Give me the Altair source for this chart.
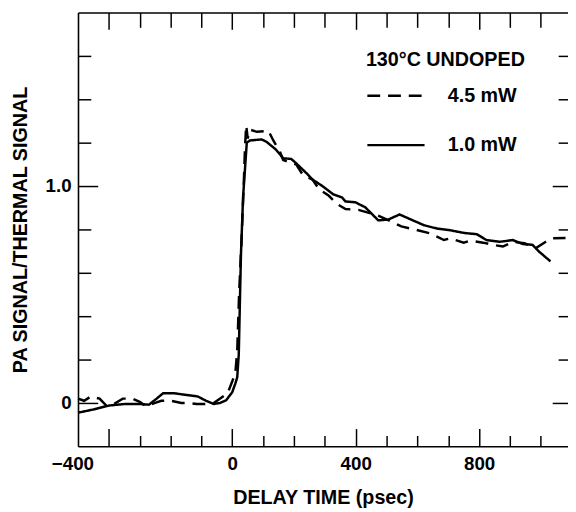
import altair as alt
import pandas as pd

# ---- data ----
series_names = ["4.5 mW", "1.0 mW"]

solid_t = [-500, -450, -400, -350, -300, -270, -245, -224, -190, -165, -112, -85, -60,
           -40, -20, 0, 10, 16, 21, 28, 35, 47, 57, 95, 111, 140, 165, 191, 207, 245,
           260, 292, 327, 356, 367, 399, 431, 452, 473, 505, 542, 580, 622, 664, 707,
           750, 792, 824, 867, 909, 941, 973, 994, 1031]
solid_v = [-0.045, -0.03, -0.012, -0.005, -0.005, -0.008, 0.02, 0.045, 0.045, 0.04, 0.03,
           0.01, -0.005, 0.0, 0.012, 0.05, 0.09, 0.118, 0.223, 0.68, 0.95, 1.2, 1.21,
           1.215, 1.204, 1.17, 1.128, 1.125, 1.105, 1.053, 1.03, 1.0, 0.962, 0.947,
           0.929, 0.925, 0.902, 0.872, 0.842, 0.845, 0.869, 0.845, 0.819, 0.804, 0.796,
           0.784, 0.778, 0.751, 0.743, 0.751, 0.733, 0.729, 0.698, 0.653]

dash_t = [-500, -480, -458, -430, -410, -390, -355, -325, -300, -280, -250, -230, -200,
          -165, -140, -115, -90, -60, -45, -15, 0, 10, 16, 22, 30, 37, 41, 45, 50, 57,
          80, 117, 133, 154, 165, 207, 228, 260, 281, 313, 340, 367, 409, 473, 548, 601,
          643, 686, 707, 750, 771, 813, 845, 877, 909, 947, 984, 1016, 1037, 1080]
dash_v = [0.02, 0.01, 0.03, 0.02, -0.01, -0.01, 0.02, 0.02, 0.005, -0.015, 0.0, 0.01,
          0.01, 0.0, 0.0, -0.005, -0.005, 0.0, 0.015, 0.045, 0.1, 0.14, 0.24, 0.5,
          0.75, 1.0, 1.17, 1.28, 1.22, 1.26, 1.25, 1.255, 1.21, 1.16, 1.12, 1.10, 1.053,
          1.03, 0.986, 0.955, 0.917, 0.894, 0.89, 0.864, 0.814, 0.796, 0.781, 0.751,
          0.759, 0.739, 0.748, 0.739, 0.729, 0.721, 0.743, 0.736, 0.714, 0.743, 0.759,
          0.76]

x_major = [-400, 0, 400, 800]
x_minor = [-300, -200, -100, 100, 200, 300, 500, 600, 700, 900, 1000]
x_labels = [0, 400, 800]
x_first_label = [-400]
y_major = [0.0, 1.0]
y_minor = [0.2, 0.4, 0.6, 0.8, 1.2, 1.4, 1.6]

rows = []
for i, (t, v) in enumerate(zip(dash_t, dash_v)):
    rows.append({"t": t, "v": v, "series": series_names[0], "i": i})
for i, (t, v) in enumerate(zip(solid_t, solid_v)):
    rows.append({"t": t, "v": v, "series": series_names[1], "i": i})
df = pd.DataFrame(rows)

FONT = "Liberation Sans"
xs = alt.Scale(domain=[-500, 1088], nice=False, zero=False)
ys = alt.Scale(domain=[-0.2, 1.8], nice=False, zero=False)

common = dict(grid=False, domainColor="black", tickColor="black", labelColor="black",
              labelFont=FONT, labelFontWeight="bold", labelFontSize=19,
              titleFont=FONT, titleFontWeight="bold", titleFontSize=20, titleColor="black",
              domainWidth=1.6, tickWidth=1.5)


def tick_axis(orient, values, size):
    return alt.Axis(orient=orient, values=values, tickSize=size, offset=-size,
                    domain=False, labels=False, ticks=True, title=None, **common)


x_main = alt.Axis(orient="bottom", values=x_labels, ticks=False, domain=True,
                  labelPadding=8, title="DELAY TIME (psec)", titleY=58,
                  titleBaseline="alphabetic", **common)
x_first = alt.Axis(orient="bottom", values=x_first_label, ticks=False, domain=False,
                   labelPadding=8, labelOffset=-37, title=None, **common)
x_top = alt.Axis(orient="top", values=x_labels, ticks=False, labels=False, domain=True,
                 title=None, **common)
y_main = alt.Axis(orient="left", values=y_major, ticks=False, domain=True,
                  labelPadding=7,
                  labelExpr="datum.value == 0 ? '0' : format(datum.value, '.1f')",
                  title="PA SIGNAL/THERMAL SIGNAL", titleX=-52, titleBaseline="alphabetic",
                  **common)

base = alt.Chart(df)

lines = base.mark_line(color="black", strokeWidth=2.5).encode(
    x=alt.X("t:Q", scale=xs, axis=x_main),
    y=alt.Y("v:Q", scale=ys, axis=y_main),
    strokeDash=alt.StrokeDash(
        "series:N",
        scale=alt.Scale(domain=series_names, range=[[13, 8], [1, 0]]),
        legend=alt.Legend(
            orient="none", legendX=292, legendY=38, padding=0,
            title="130°C UNDOPED", titleFont=FONT, titleFontSize=20,
            titleFontWeight="bold", titleColor="black", titlePadding=-4,
            labelFont=FONT, labelFontSize=20, labelFontWeight="bold",
            labelColor="black", labelOffset=22, symbolType="stroke",
            symbolSize=3364, symbolStrokeWidth=2.5, symbolStrokeColor="black",
            rowPadding=9,
        ),
    ),
    order=alt.Order("i:Q"),
)


def ghost(xaxis, yaxis):
    return base.mark_point(opacity=0).encode(
        x=alt.X("t:Q", scale=xs, axis=xaxis),
        y=alt.Y("v:Q", scale=ys, axis=yaxis),
    )


layers = [
    lines,
    ghost(x_first, tick_axis("left", y_major, 20)),
    ghost(tick_axis("bottom", x_major, 18), tick_axis("left", y_minor, 13)),
    ghost(tick_axis("bottom", x_minor, 11), tick_axis("right", y_major, 16)),
    ghost(x_top, tick_axis("right", y_minor, 10)),
    ghost(tick_axis("top", x_major, 17), None),
    ghost(tick_axis("top", x_minor, 15), None),
]

chart = alt.layer(*layers).resolve_axis(x="independent", y="independent").properties(
    width=497, height=440,
    autosize=alt.AutoSizeParams(type="none"),
    padding={"left": 71, "top": 1, "right": 0, "bottom": 62},
).configure_view(strokeWidth=0)

chart.save("out.html", embed_options={"renderer": "svg", "actions": False})
